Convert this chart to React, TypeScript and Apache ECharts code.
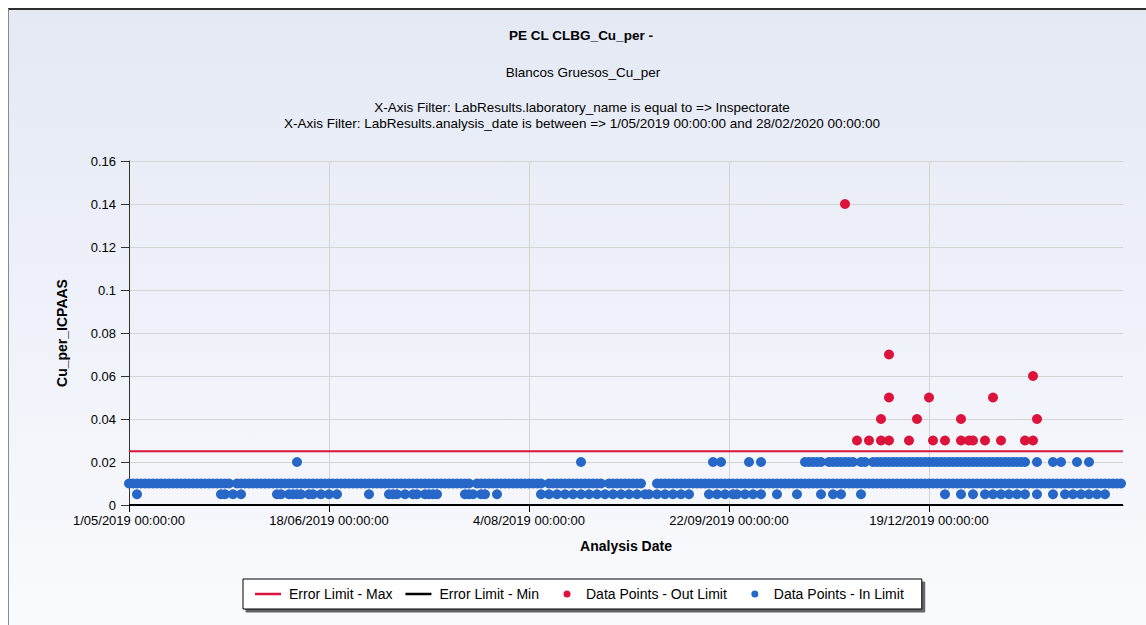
import React, { useEffect, useRef } from 'react';
import * as echarts from 'echarts';

// ---------- texts ----------
const chartTitle = 'PE CL CLBG_Cu_per -';
const chartSubtitle = 'Blancos Gruesos_Cu_per';
const filterLines = [
  'X-Axis Filter: LabResults.laboratory_name is equal to => Inspectorate',
  'X-Axis Filter: LabResults.analysis_date is between => 1/05/2019 00:00:00 and 28/02/2020 00:00:00',
];
const xAxisName = 'Analysis Date';
const yAxisName = 'Cu_per_ICPAAS';

// ---------- x axis (indexed analysis dates) ----------
const dateIndexMax = 248.5;
const xTickIndex = [0, 50, 100, 150, 200];
const xTickLabels = [
  '1/05/2019 00:00:00',
  '18/06/2019 00:00:00',
  '4/08/2019 00:00:00',
  '22/09/2019 00:00:00',
  '19/12/2019 00:00:00',
];

// ---------- y axis ----------
const yMin = 0;
const yMax = 0.16;
const yInterval = 0.02;

// ---------- limits ----------
const errorLimitMax = 0.025;
const errorLimitMin = 0;

// ---------- series names ----------
const nameMax = 'Error Limit - Max';
const nameMin = 'Error Limit - Min';
const nameOut = 'Data Points - Out Limit';
const nameIn = 'Data Points - In Limit';

// ---------- in-limit points (date index lists per value level) ----------
const inLimitAt010 = [
  0, 1, 2, 3, 4, 5, 6, 7, 8, 9, 10, 11, 12, 13, 14, 15, 16, 17, 18, 19,
  20, 21, 22, 23, 24, 25, 27, 28, 29, 30, 31, 32, 33, 34, 35, 36, 37, 38, 39, 40,
  41, 42, 43, 44, 45, 46, 47, 48, 49, 50, 51, 52, 53, 54, 55, 56, 57, 58, 59, 60,
  61, 62, 63, 64, 65, 66, 67, 68, 69, 70, 71, 72, 73, 74, 75, 76, 77, 78, 79, 80,
  81, 82, 83, 84, 85, 87, 88, 89, 90, 91, 92, 93, 94, 95, 96, 97, 98, 99, 100, 101,
  102, 103, 105, 106, 107, 108, 109, 110, 111, 112, 113, 114, 115, 116, 117, 118, 120, 121, 122,
  123, 124, 125, 126, 127, 128, 132, 133, 134, 135, 136, 137, 138, 139, 140, 141, 142, 143, 144, 145,
  146, 147, 148, 149, 150, 151, 152, 153, 154, 155, 156, 157, 158, 159, 160, 161, 162, 163, 164, 165,
  166, 167, 168, 169, 170, 171, 172, 173, 174, 175, 176, 177, 178, 179, 180, 181, 182, 183, 184, 185,
  186, 187, 188, 189, 190, 191, 192, 193, 194, 195, 196, 197, 198, 199, 200, 201, 202, 203, 204, 205,
  206, 207, 208, 209, 210, 211, 212, 213, 214, 215, 216, 217, 218, 219, 220, 221, 222, 223, 224, 225,
  226, 227, 228, 229, 230, 231, 232, 233, 234, 235, 236, 237, 238, 239, 240, 241, 242, 243, 244, 245,
  246, 247, 248,
];
const inLimitAt005 = [
  2, 23, 24, 26, 28, 37, 38, 40, 41, 42, 43, 45, 46, 48, 50, 52, 60, 65, 66, 67,
  69, 71, 72, 74, 75, 76, 77, 84, 85, 86, 88, 89, 92, 103, 105, 107, 109, 111, 113, 115,
  117, 119, 121, 123, 125, 127, 129, 130, 132, 134, 136, 138, 140, 145, 147, 149, 151, 152, 154, 156,
  158, 162, 167, 173, 176, 178, 183, 204, 208, 211, 214, 216, 218, 220, 222, 224, 227, 231, 234, 236,
  238, 240, 242, 244,
];
const inLimitAt020 = [
  42, 113, 146, 148, 155, 158, 169, 170, 171, 172, 173, 175, 176, 177, 178, 179, 180, 181, 183, 184,
  186, 187, 188, 189, 190, 191, 192, 193, 194, 195, 196, 197, 198, 199, 200, 201, 202, 203, 204, 205,
  206, 207, 208, 209, 210, 211, 212, 213, 214, 215, 216, 217, 218, 219, 220, 221, 222, 223, 224, 227,
  231, 233, 237, 240,
];

// ---------- out-of-limit points ----------
const outLimitIndex = [179, 182, 185, 188, 188, 190, 190, 190, 195, 197, 200, 201, 204, 208, 208, 210, 211, 214, 216, 218, 224, 226, 226, 227];
const outLimitValue = [0.14, 0.03, 0.03, 0.03, 0.04, 0.03, 0.05, 0.07, 0.03, 0.04, 0.05, 0.03, 0.03, 0.03, 0.04, 0.03, 0.03, 0.03, 0.05, 0.03, 0.03, 0.03, 0.06, 0.04];

const FONT = "'Liberation Sans', Arial, sans-serif";
const BLUE = '#2767C8';
const RED = '#DC143C';
const LINE_ICON = 'path://M0,0H26V2.5H0Z';
const DOT_ICON = 'path://M0,0M26,7M11.5,3.5A3.5,3.5 0 1 0 18.5,3.5A3.5,3.5 0 1 0 11.5,3.5Z';

export default function App() {
  const ref = useRef<HTMLDivElement>(null);

  useEffect(() => {
    if (!ref.current) return;
    const chart = echarts.init(ref.current, undefined, { renderer: 'svg' });

    const inLimitData = [
      ...inLimitAt010.map((i) => [i, 0.01]),
      ...inLimitAt005.map((i) => [i, 0.005]),
      ...inLimitAt020.map((i) => [i, 0.02]),
    ];
    const outLimitData = outLimitIndex.map((i, k) => [i, outLimitValue[k]]);

    const titleStyle = { textAlign: 'center', textVerticalAlign: 'middle', fontFamily: FONT, fontSize: 13.5, fill: '#000' };

    chart.setOption({
      animation: false,
      backgroundColor: 'transparent',
      graphic: [
        { type: 'text', x: 581, y: 35, style: { ...titleStyle, text: chartTitle, fontWeight: 'bold' } },
        { type: 'text', x: 583, y: 72, style: { ...titleStyle, text: chartSubtitle } },
        { type: 'text', x: 582, y: 107, style: { ...titleStyle, text: filterLines[0] } },
        { type: 'text', x: 582, y: 123, style: { ...titleStyle, text: filterLines[1] } },
      ],
      legend: {
        left: 243,
        top: 579,
        padding: [8, 18, 8, 12],
        itemWidth: 26,
        itemHeight: 7,
        itemGap: 13,
        backgroundColor: '#ffffff',
        borderColor: '#000000',
        borderWidth: 1,
        shadowColor: 'rgba(0,0,0,0.6)',
        shadowBlur: 1,
        shadowOffsetX: 3,
        shadowOffsetY: 3,
        selectedMode: false,
        itemStyle: { borderWidth: 0 },
        textStyle: { fontFamily: FONT, fontSize: 14, color: '#000', padding: [0, 0, 0, 3] },
        data: [
          { name: nameMax, icon: LINE_ICON },
          { name: nameMin, icon: LINE_ICON },
          { name: nameOut, icon: DOT_ICON },
          { name: nameIn, icon: DOT_ICON },
        ],
      },
      grid: { left: 129, right: 23, top: 161, bottom: 120 },
      xAxis: {
        type: 'value',
        min: 0,
        max: dateIndexMax,
        name: xAxisName,
        nameLocation: 'middle',
        nameGap: 34,
        nameTextStyle: { fontFamily: FONT, fontSize: 14, fontWeight: 'bold', color: '#000' },
        axisLine: { show: true, onZero: false, lineStyle: { color: '#000', width: 1 } },
        axisTick: { show: true, length: 7, customValues: xTickIndex, lineStyle: { color: '#000' } },
        axisLabel: {
          customValues: xTickIndex,
          margin: 9,
          fontFamily: FONT,
          fontSize: 13,
          color: '#000',
          formatter: (v: number) => {
            const k = xTickIndex.indexOf(Math.round(v));
            return k >= 0 ? xTickLabels[k] : '';
          },
        },
        splitLine: { show: true, lineStyle: { color: '#d4d4d4', width: 1 } },
      },
      yAxis: {
        type: 'value',
        min: yMin,
        max: yMax,
        interval: yInterval,
        name: yAxisName,
        nameLocation: 'middle',
        nameGap: 60,
        nameTextStyle: { fontFamily: FONT, fontSize: 14, fontWeight: 'bold', color: '#000' },
        axisLine: { show: true, lineStyle: { color: '#333', width: 1 } },
        axisTick: { show: true, length: 8, lineStyle: { color: '#333' } },
        axisLabel: { margin: 13, fontFamily: FONT, fontSize: 13, color: '#000' },
        splitLine: { show: true, lineStyle: { color: '#d4d4d4', width: 1 } },
      },
      series: [
        {
          name: nameMax,
          type: 'line',
          data: [[0, errorLimitMax], [dateIndexMax, errorLimitMax]],
          symbol: 'none',
          lineStyle: { color: RED, width: 2 },
          itemStyle: { color: RED },
          z: 3,
        },
        {
          name: nameMin,
          type: 'line',
          data: [[0, errorLimitMin], [dateIndexMax, errorLimitMin]],
          symbol: 'none',
          lineStyle: { color: '#000', width: 2 },
          itemStyle: { color: '#000' },
          z: 3,
        },
        {
          name: nameOut,
          type: 'scatter',
          data: outLimitData,
          symbol: 'circle',
          symbolSize: 10,
          itemStyle: { color: RED, opacity: 1 },
          z: 4,
        },
        {
          name: nameIn,
          type: 'scatter',
          data: inLimitData,
          symbol: 'circle',
          symbolSize: 10,
          itemStyle: { color: BLUE, opacity: 1 },
          z: 4,
        },
      ],
    });

    return () => chart.dispose();
  }, []);

  return (
    <div style={{ position: 'fixed', left: 0, top: 0, width: 1146, height: 625, background: '#ffffff', overflow: 'hidden' }}>
      <div
        style={{
          position: 'absolute',
          left: 8,
          top: 8,
          width: 1146,
          height: 625,
          borderTop: '2px solid #2e2e2e',
          borderLeft: '1px solid #8a8a8a',
          background: 'linear-gradient(to bottom, #e4e9f4 0%, #eef1f9 45%, #fafbfe 100%)',
        }}
      />
      <div ref={ref} style={{ position: 'absolute', left: 0, top: 0, width: 1146, height: 625 }} />
    </div>
  );
}
